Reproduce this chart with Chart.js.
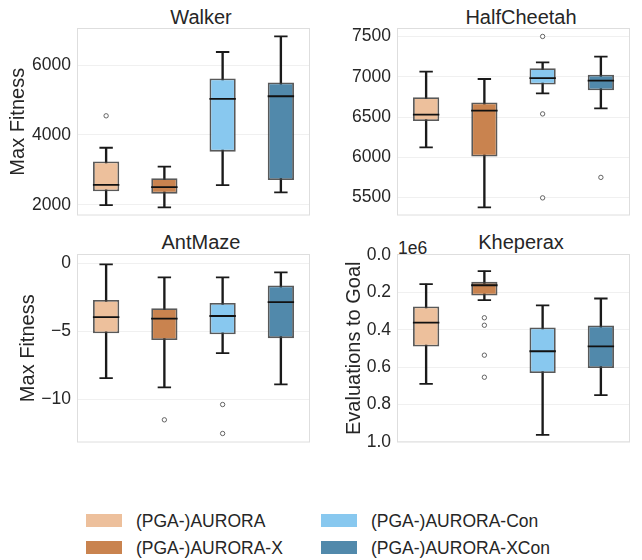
<!DOCTYPE html>
<html>
<head>
<meta charset="utf-8">
<script src="https://cdn.jsdelivr.net/npm/chart.js@4.4.0/dist/chart.umd.min.js"></script>
<style>
html, body { margin: 0; padding: 0; background: #fff; overflow: hidden; width: 642px; height: 560px; }
body { position: relative; font-family: "Liberation Sans", Arial, sans-serif; color: #262626; }
.panel { position: absolute; }
.title { position: absolute; font-size: 20px; line-height: 24px; height: 24px; text-align: center; white-space: nowrap; }
.offset { position: absolute; font-size: 17.5px; line-height: 20px; }
.swatch { position: absolute; width: 36px; height: 13px; }
.label { position: absolute; font-size: 17.5px; line-height: 22px; white-space: nowrap; }
</style>
</head>
<body>

<div class="title" style="left:77px;width:248px;top:5px;">Walker</div>
<div class="title" style="left:397px;width:248px;top:5px;">HalfCheetah</div>
<div class="title" style="left:77px;width:248px;top:230px;">AntMaze</div>
<div class="title" style="left:397px;width:248px;top:230px;">Kheperax</div>
<div class="offset" style="left:398px;top:238px;">1e6</div>

<div class="panel" style="left:0;top:0;width:325px;height:232px;"><canvas id="walkerChart"></canvas></div>
<div class="panel" style="left:320px;top:0;width:325px;height:232px;"><canvas id="cheetahChart"></canvas></div>
<div class="panel" style="left:0;top:226px;width:325px;height:233px;"><canvas id="antChart"></canvas></div>
<div class="panel" style="left:320px;top:226px;width:325px;height:233px;"><canvas id="khepChart"></canvas></div>

<div id="legend"></div>

<script>
// Các phương pháp (thứ tự hộp trong mỗi ô)
const methods = ['(PGA-)AURORA', '(PGA-)AURORA-X', '(PGA-)AURORA-Con', '(PGA-)AURORA-XCon'];
const methodColors = ['#edc09c', '#c9834f', '#88c8ef', '#5189ab'];

// Walker: râu dưới, Q1, trung vị, Q3, râu trên, điểm ngoại lai [hộp, giá trị]
const walkerLo = [1990, 1925, 2560, 2355];
const walkerQ1 = [2383, 2316, 3519, 2708];
const walkerMed = [2568, 2503, 5030, 5105];
const walkerQ3 = [3240, 2755, 5617, 5497];
const walkerHi = [3630, 3090, 6372, 6820];
const walkerOut = [[0, 4545]];
const walkerTicks = [2000, 4000, 6000];

// HalfCheetah
const cheetahLo = [6123, 5379, 6793, 6608];
const cheetahQ1 = [6450, 6009, 6903, 6833];
const cheetahMed = [6530, 6579, 6984, 6951];
const cheetahQ3 = [6745, 6680, 7105, 7024];
const cheetahHi = [7064, 6972, 7178, 7250];
const cheetahOut = [[2, 7500], [2, 6539], [2, 5497], [3, 5751]];
const cheetahTicks = [5500, 6000, 6500, 7000, 7500];

// AntMaze
const antLo = [-8.43, -9.1, -6.6, -8.89];
const antQ1 = [-5.14, -5.64, -5.21, -5.5];
const antMed = [-3.96, -4.07, -3.88, -2.86];
const antQ3 = [-2.71, -3.31, -2.93, -1.64];
const antHi = [-0.1, -1.05, -1.05, -0.69];
const antOut = [[1, -11.48], [2, -10.36], [2, -12.48]];
const antTicks = [-10, -5, 0];

// Kheperax (số lần đánh giá, trục đảo ngược)
const khepLo = [156000, 87000, 270000, 233000];
const khepQ1 = [276000, 144000, 388000, 377000];
const khepMed = [362000, 162000, 515000, 489000];
const khepQ3 = [490000, 217000, 631000, 605000];
const khepHi = [689000, 242000, 962000, 750000];
const khepOut = [[1, 336000], [1, 376000], [1, 536000], [1, 654000]];
const khepTicks = [0, 200000, 400000, 600000, 800000, 1000000];

const inkColor = '#262626';
const fontFamily = '"Liberation Sans", Arial, sans-serif';

// Khung viền quanh vùng vẽ
const framePlugin = {
  id: 'frame',
  afterDraw(chart) {
    const a = chart.chartArea;
    const c = chart.ctx;
    c.save();
    c.strokeStyle = '#dedede';
    c.lineWidth = 1;
    c.strokeRect(a.left + 0.5, a.top + 0.5, a.right - a.left - 1, a.bottom - a.top - 1);
    c.restore();
  }
};

function boxDatasets(lo, q1, med, q3, hi, out) {
  return [
    { // râu
      type: 'bar', data: lo.map((v, i) => [v, hi[i]]),
      backgroundColor: '#1a1a1a', barThickness: 1.7, grouped: false, order: 4
    },
    { // hộp
      type: 'bar', data: q1.map((v, i) => [v, q3[i]]),
      backgroundColor: methodColors, borderColor: 'rgba(60,60,60,0.85)', borderWidth: 1.8,
      borderSkipped: false, barPercentage: 0.45, categoryPercentage: 1, grouped: false, order: 3
    },
    { // đầu râu
      type: 'line', showLine: false,
      data: lo.flatMap((v, i) => [{ x: methods[i], y: v }, { x: methods[i], y: hi[i] }]),
      pointStyle: 'line', pointRadius: 6.7, borderColor: '#1a1a1a', pointBorderWidth: 1.8, order: 2
    },
    { // trung vị
      type: 'line', showLine: false,
      data: med.map((v, i) => ({ x: methods[i], y: v })),
      pointStyle: 'line', pointRadius: 13.2, borderColor: '#111', pointBorderWidth: 1.8, order: 1
    },
    { // ngoại lai
      type: 'line', showLine: false,
      data: out.map(([i, v]) => ({ x: methods[i], y: v })),
      pointStyle: 'circle', pointRadius: 2.2, pointBackgroundColor: '#fff',
      borderColor: '#555', pointBorderWidth: 0.9, order: 0
    }
  ];
}

function makePanel(id, sets, yOpts) {
  return new Chart(document.getElementById(id), {
    type: 'bar',
    data: { labels: methods, datasets: sets },
    options: {
      responsive: true,
      maintainAspectRatio: false,
      animation: false,
      events: [],
      layout: { padding: { top: 28, bottom: 12, left: 0, right: 0 } },
      plugins: { legend: { display: false }, title: { display: false }, tooltip: { enabled: false } },
      scales: {
        x: { type: 'category', display: false, offset: true },
        y: {
          type: 'linear',
          min: yOpts.min,
          max: yOpts.max,
          reverse: !!yOpts.reverse,
          afterBuildTicks: s => { s.ticks = yOpts.ticks.map(v => ({ value: v })); },
          afterFit: s => { s.width = 77; },
          ticks: {
            callback: yOpts.format,
            font: { family: fontFamily, size: 17.5 },
            color: inkColor,
            padding: 6
          },
          grid: { color: '#f0f0f0', drawTicks: false },
          border: { display: false },
          title: {
            display: !!yOpts.title,
            text: yOpts.title || '',
            font: { family: fontFamily, size: 20 },
            color: inkColor,
            padding: { top: yOpts.titlePad || 0, bottom: 0 }
          }
        }
      }
    },
    plugins: [framePlugin]
  });
}

const plainFmt = v => String(v);
const minusFmt = v => (v < 0 ? '\u2212' + Math.abs(v) : String(v));
const millionFmt = v => (v / 1e6).toFixed(1);

makePanel('walkerChart', boxDatasets(walkerLo, walkerQ1, walkerMed, walkerQ3, walkerHi, walkerOut),
  { min: 1690, max: 7060, ticks: walkerTicks, format: plainFmt, title: 'Max Fitness', titlePad: 6 });
makePanel('cheetahChart', boxDatasets(cheetahLo, cheetahQ1, cheetahMed, cheetahQ3, cheetahHi, cheetahOut),
  { min: 5278, max: 7605, ticks: cheetahTicks, format: plainFmt });
makePanel('antChart', boxDatasets(antLo, antQ1, antMed, antQ3, antHi, antOut),
  { min: -13.14, max: 0.66, ticks: antTicks, format: minusFmt, title: 'Max Fitness', titlePad: 16 });
makePanel('khepChart', boxDatasets(khepLo, khepQ1, khepMed, khepQ3, khepHi, khepOut),
  { min: -5000, max: 1003000, reverse: true, ticks: khepTicks, format: millionFmt, title: 'Evaluations to Goal', titlePad: 22 });

// Chú giải (HTML)
const legendPos = [[86, 514], [86, 541], [321, 514], [321, 541]];
const legendEl = document.getElementById('legend');
methods.forEach((m, i) => {
  const [x, y] = legendPos[i];
  const sw = document.createElement('div');
  sw.className = 'swatch';
  sw.style.left = x + 'px';
  sw.style.top = y + 'px';
  sw.style.background = methodColors[i];
  legendEl.appendChild(sw);
  const lb = document.createElement('div');
  lb.className = 'label';
  lb.style.left = (x + 50) + 'px';
  lb.style.top = (y - 4) + 'px';
  lb.textContent = m;
  legendEl.appendChild(lb);
});
</script>
</body>
</html>
